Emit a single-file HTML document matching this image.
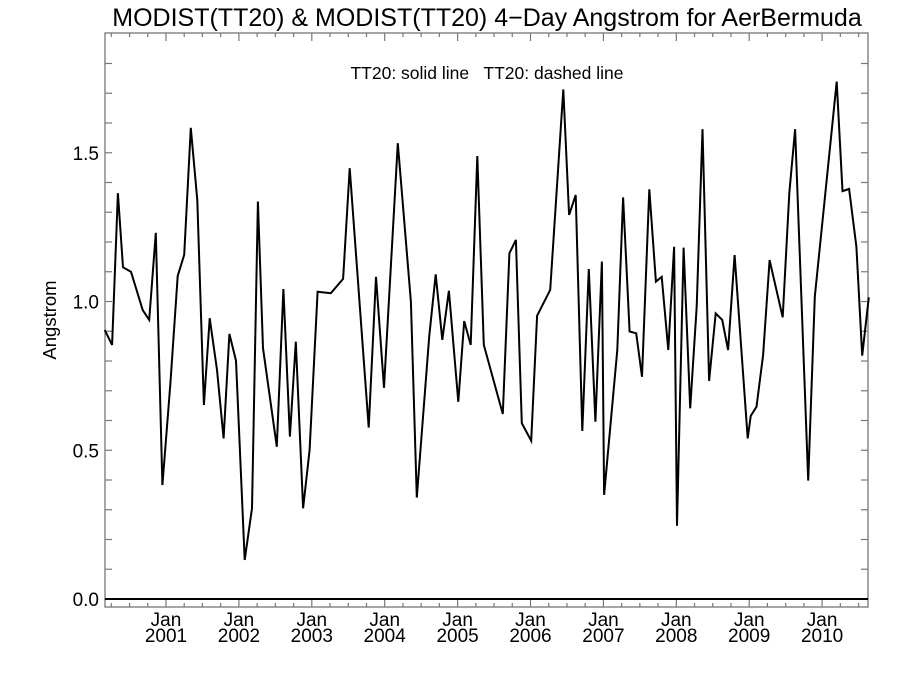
<!DOCTYPE html>
<html><head><meta charset="utf-8"><style>
html,body{margin:0;padding:0;background:#fff;}
svg{display:block;font-family:"Liberation Sans",sans-serif;}
</style></head><body>
<svg id="chart" width="900" height="675" viewBox="0 0 900 675">
<text x="487" y="26" font-size="25" text-anchor="middle">MODIST(TT20) &amp; MODIST(TT20) 4−Day Angstrom for AerBermuda</text>
<text x="487" y="79" font-size="17.5" text-anchor="middle" style="white-space:pre" xml:space="preserve">TT20: solid line   TT20: dashed line</text>
<text x="0" y="0" font-size="18.5" text-anchor="middle" transform="translate(56,320) rotate(-90)">Angstrom</text>
<g id="axes"></g>
<g id="series"></g>
</svg>
<script>
const dates = [2000.16,2000.26,2000.34,2000.41,2000.52,2000.68,2000.77,2000.86,2000.95,2001.06,2001.16,2001.25,2001.34,2001.43,2001.52,2001.60,2001.70,2001.79,2001.87,2001.96,2002.08,2002.18,2002.26,2002.33,2002.52,2002.61,2002.70,2002.78,2002.88,2002.97,2003.08,2003.26,2003.43,2003.52,2003.78,2003.88,2003.99,2004.18,2004.36,2004.44,2004.61,2004.70,2004.79,2004.88,2005.01,2005.09,2005.18,2005.27,2005.36,2005.62,2005.71,2005.80,2005.88,2006.01,2006.09,2006.27,2006.45,2006.53,2006.62,2006.71,2006.80,2006.89,2006.98,2007.01,2007.19,2007.27,2007.36,2007.45,2007.53,2007.63,2007.72,2007.80,2007.89,2007.97,2008.01,2008.10,2008.19,2008.28,2008.36,2008.45,2008.54,2008.63,2008.71,2008.80,2008.98,2009.02,2009.10,2009.19,2009.28,2009.46,2009.55,2009.63,2009.81,2009.90,2010.20,2010.28,2010.37,2010.47,2010.55,2010.64];
const values = [0.904,0.854,1.364,1.115,1.10,0.971,0.938,1.231,0.383,0.725,1.086,1.157,1.584,1.341,0.652,0.944,0.77,0.54,0.891,0.801,0.131,0.305,1.336,0.843,0.512,1.042,0.546,0.865,0.305,0.501,1.033,1.028,1.076,1.448,0.576,1.083,0.71,1.532,0.999,0.341,0.882,1.091,0.871,1.036,0.663,0.934,0.854,1.489,0.854,0.622,1.162,1.207,0.591,0.532,0.952,1.039,1.713,1.291,1.358,0.565,1.109,0.596,1.134,0.350,0.837,1.350,0.899,0.893,0.747,1.377,1.067,1.083,0.837,1.184,0.246,1.181,0.641,0.983,1.579,0.733,0.96,0.938,0.837,1.156,0.54,0.615,0.646,0.82,1.139,0.947,1.364,1.579,0.398,1.016,1.739,1.371,1.378,1.184,0.818,1.014];
const yTickLabels = ["0.0","0.5","1.0","1.5"];
const yTickValues = [0,0.5,1.0,1.5];
const xYears = [2001,2002,2003,2004,2005,2006,2007,2008,2009,2010];

const L=105,R=868,T=33,B=607;
const xs=t=>166+(t-2001)*72.9;
const ys=v=>599-297.5*v;
const NS="http://www.w3.org/2000/svg";
const ax=document.getElementById('axes');
function mk(tag,attrs,parent){const e=document.createElementNS(NS,tag);for(const k in attrs)e.setAttribute(k,attrs[k]);parent.appendChild(e);return e;}
const frame=mk('rect',{x:L,y:T,width:R-L,height:B-T,fill:'none',stroke:'#777','stroke-width':1.3},ax);


for(let v=0;v<=1.9;v+=0.1){const y=ys(v);
 const t1=mk('line',{x1:L,x2:L+7,y1:y,y2:y,stroke:'#777','stroke-width':1.2},ax);
 
 
 const t2=mk('line',{x1:R,x2:R-7,y1:y,y2:y,stroke:'#777','stroke-width':1.2},ax);
 
 }
yTickValues.forEach((v,i)=>{const t=mk('text',{x:99,y:ys(v)+7,'font-size':19,'text-anchor':'end'},ax);t.textContent=yTickLabels[i];
 
 });
for(let t=2000.25;t<=2010.65;t+=0.25){const x=xs(t);if(x<L||x>R)continue;
 const major=Math.abs(t-Math.round(t))<0.01;const len=major?8:4;
 const a=mk('line',{x1:x,x2:x,y1:B,y2:B-len,stroke:'#777','stroke-width':1.2},ax);
 
 
 const b=mk('line',{x1:x,x2:x,y1:T,y2:T+len,stroke:'#777','stroke-width':1.2},ax);
 
 }
xYears.forEach(yr=>{const x=xs(yr);
 const a=mk('text',{x:x,y:626,'font-size':19,'text-anchor':'middle'},ax);a.textContent='Jan';
 
 
 const b=mk('text',{x:x,y:642,'font-size':19,'text-anchor':'middle'},ax);b.textContent=String(yr);
 
 });
const zl=mk('line',{x1:L,x2:R,y1:ys(0),y2:ys(0),stroke:'#000','stroke-width':2},ax);


const pts=dates.map((t,i)=>xs(t).toFixed(1)+','+ys(values[i]).toFixed(1)).join(' ');
const pl=mk('polyline',{points:pts,fill:'none',stroke:'#000','stroke-width':2,'stroke-linejoin':'miter'},document.getElementById('series'));


</script>
</body></html>
